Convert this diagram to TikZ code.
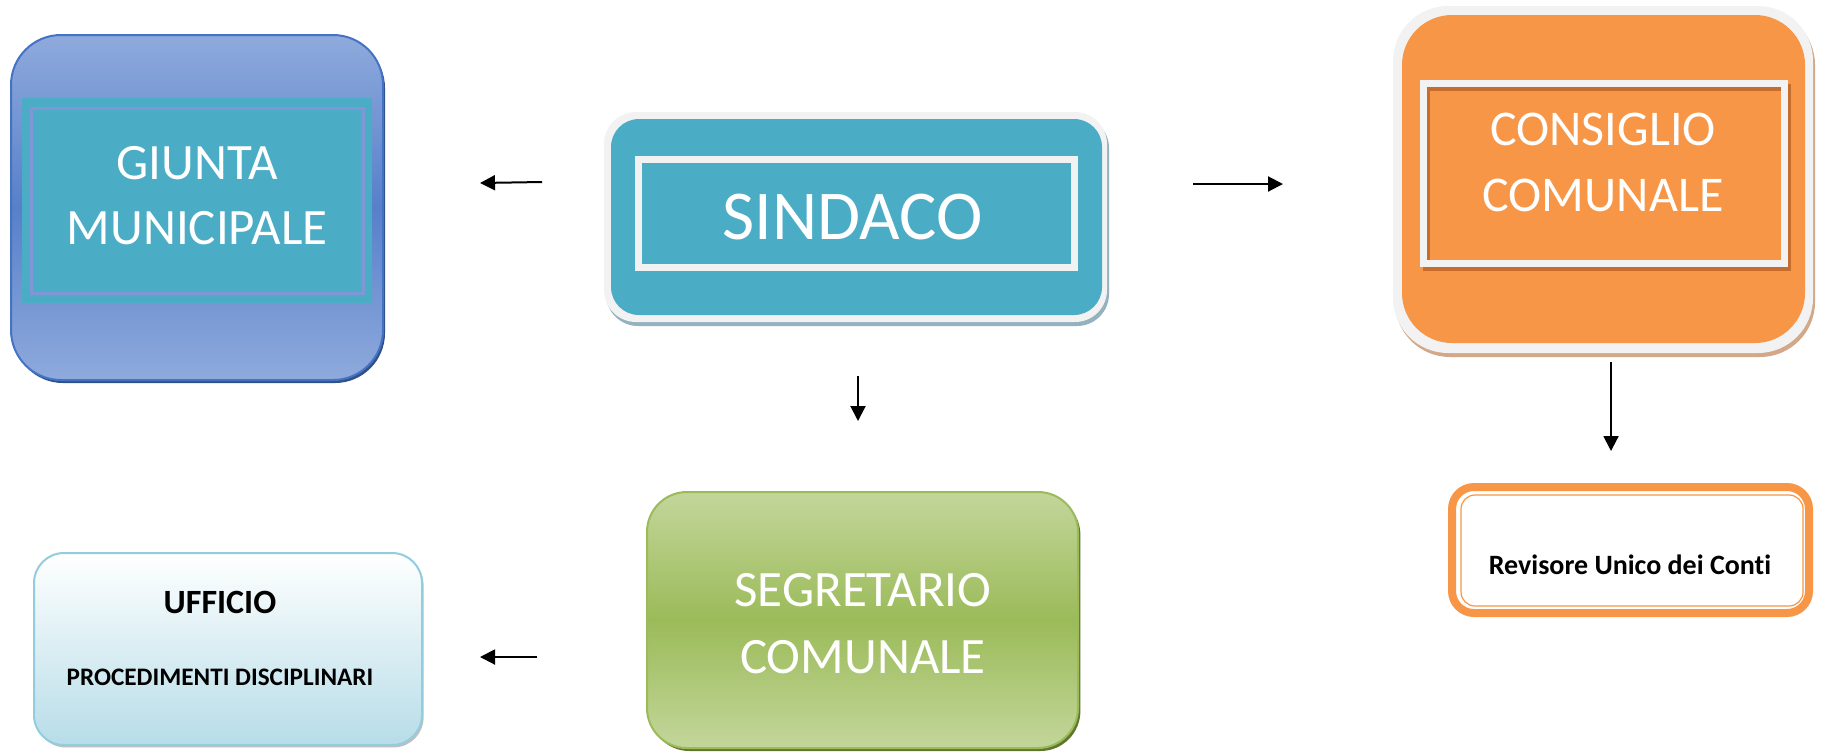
\documentclass[tikz,border=0pt]{standalone}
\usepackage{fontspec}
\setmainfont{Carlito}[Ligatures={NoCommon}]
\usetikzlibrary{arrows.meta,shadows}

\definecolor{tealfill}{HTML}{4BACC6}
\definecolor{giuntalight}{HTML}{8FAADC}
\definecolor{giuntadark}{HTML}{4472C4}
\definecolor{giuntaframe}{HTML}{8196D6}
\definecolor{paleframe}{HTML}{F2F2F2}
\definecolor{sindacoshade}{HTML}{93B1BE}
\definecolor{orangefill}{HTML}{F79646}
\definecolor{orangedark}{HTML}{C66C2C}
\definecolor{consiglioshade}{HTML}{D2A888}
\definecolor{greenlight}{HTML}{C3D69B}
\definecolor{greenmid}{HTML}{9BBB59}
\definecolor{greenshade}{HTML}{5F7530}
\definecolor{ufficioline}{HTML}{93CDDD}
\definecolor{ufficiobottom}{HTML}{B7DDE8}

\tikzset{
  arrowline/.style={-{Triangle[length=7.5pt,width=7.5pt]}, line width=1pt, black},
  whitetext/.style={text=white, align=center},
  blacktext/.style={text=black, align=center, font=\bfseries},
}

\begin{document}
\begin{tikzpicture}[x=0.5pt,y=-0.5pt]
  \useasboundingbox (0,0) rectangle (1823,751);

  % giunta municipale
  \node[rectangle, rounded corners=25pt, minimum width=186pt, minimum height=172.5pt,
        draw=giuntadark, line width=1pt, top color=giuntalight, bottom color=giuntalight,
        middle color=giuntadark!75!giuntalight,
        drop shadow={shadow xshift=1pt, shadow yshift=-1.5pt, fill=giuntadark!70!black, opacity=1}]
        (giunta) at (197,207.5) {};
  \node[fill=tealfill, minimum width=175pt, minimum height=102.5pt] (giuntainner) at (197,200.5) {};
  \node[draw=giuntaframe, line width=1.5pt, minimum width=166pt, minimum height=92.5pt] (giuntaframe) at (197,200.5) {};
  \node[whitetext, font=\fontsize{25.5}{32.5}\selectfont] (giuntalabel) at (197,196) {GIUNTA\\MUNICIPALE};

  % sindaco
  \node[fill=paleframe, rounded corners=16pt, minimum width=251.5pt, minimum height=105pt,
        drop shadow={shadow xshift=1pt, shadow yshift=-2pt, fill=sindacoshade, opacity=1}]
        (sindaco) at (855.5,217) {};
  \node[fill=tealfill, rounded corners=14pt, minimum width=245.5pt, minimum height=98pt] (sindacoinner) at (856.5,217) {};
  \node[draw=paleframe, line width=3.5pt, minimum width=218pt, minimum height=54pt] (sindacoframe) at (856.5,213.5) {};
  \node[whitetext, font=\fontsize{35}{42}\selectfont] (sindacolabel) at (852.5,217) {SINDACO};

  % consiglio comunale
  \node[fill=paleframe, rounded corners=27.5pt, minimum width=210pt, minimum height=173.5pt,
        drop shadow={shadow xshift=1pt, shadow yshift=-2pt, fill=consiglioshade, opacity=1}]
        (consiglio) at (1603,179.5) {};
  \node[fill=orangefill, rounded corners=25pt, minimum width=201.5pt, minimum height=164pt] (consiglioinner) at (1603.5,179) {};
  \node[draw=orangedark, line width=3.5pt, minimum width=180.5pt, minimum height=90pt] (consiglioshadow) at (1607,177) {};
  \node[draw=paleframe, line width=3.5pt, minimum width=180.5pt, minimum height=90pt] (consiglioframe) at (1604,173.5) {};
  \node[whitetext, font=\fontsize{25}{33}\selectfont] (consigliolabel) at (1603,162) {CONSIGLIO\\COMUNALE};

  % revisore
  \node[draw=orangefill, line width=4pt, rounded corners=11pt, fill=white,
        minimum width=178.5pt, minimum height=63pt] (revisore) at (1630.5,550) {};
  \node[draw=orangefill, line width=0.6pt, rounded corners=7pt,
        minimum width=171pt, minimum height=55.5pt] (revisoreframe) at (1632,550.5) {};
  \node[blacktext, font=\bfseries\fontsize{14}{17}\selectfont] (revisorelabel) at (1630,565) {Revisore Unico dei Conti};

  % segretario comunale
  \node[rounded corners=20pt, minimum width=215.5pt, minimum height=128pt,
        draw=greenmid, line width=1pt, top color=greenlight, bottom color=greenlight, middle color=greenmid,
        drop shadow={shadow xshift=1.2pt, shadow yshift=-1.5pt, fill=greenshade, opacity=1}]
        (segretario) at (862.5,620) {};
  \node[whitetext, font=\fontsize{25.5}{33.5}\selectfont] (segretariolabel) at (863,623.5) {SEGRETARIO\\COMUNALE};

  % ufficio procedimenti disciplinari
  \node[rounded corners=15pt, minimum width=194pt, minimum height=96pt,
        draw=ufficioline, line width=1pt, top color=white, bottom color=ufficiobottom,
        drop shadow={shadow xshift=0.8pt, shadow yshift=-1.2pt, fill=black!25, opacity=1}]
        (ufficio) at (228,649) {};
  \node[blacktext, font=\bfseries\fontsize{17}{20}\selectfont] (ufficiotitle) at (220,602) {UFFICIO};
  \node[blacktext, font=\bfseries\fontsize{12.6}{15}\selectfont] (ufficiolabel) at (220,677) {PROCEDIMENTI DISCIPLINARI};

  % arrows
  \coordinate (a1s) at (542,182);
  \coordinate (a1e) at (480,183);
  \coordinate (a2s) at (1193,184);
  \coordinate (a2e) at (1283,184);
  \coordinate (a3s) at (858,376);
  \coordinate (a3e) at (858,421);
  \coordinate (a4s) at (1611,362);
  \coordinate (a4e) at (1611,451);
  \coordinate (a5s) at (537,657);
  \coordinate (a5e) at (480,657);

  \draw[arrowline] (a1s) -- (a1e);
  \draw[arrowline] (a2s) -- (a2e);
  \draw[arrowline] (a3s) -- (a3e);
  \draw[arrowline] (a4s) -- (a4e);
  \draw[arrowline] (a5s) -- (a5e);
\end{tikzpicture}
\end{document}
